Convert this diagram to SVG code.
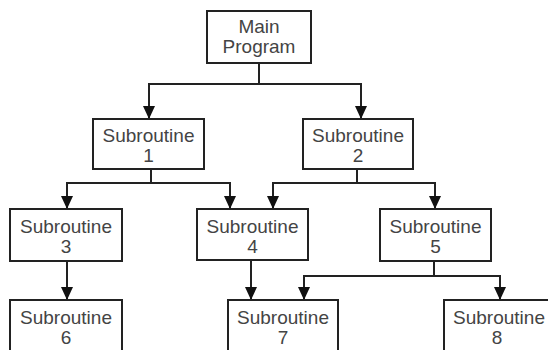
<svg xmlns="http://www.w3.org/2000/svg" width="548" height="350" viewBox="0 0 548 350">
<defs>
<style>
.box{fill:#fff;stroke:#222;stroke-width:2}
.t{font-family:"Liberation Sans",Arial,sans-serif;font-size:19px;fill:#444;text-anchor:middle}
.c{fill:none;stroke:#222;stroke-width:2}
</style>
<marker id="a" markerUnits="userSpaceOnUse" markerWidth="13" markerHeight="12" refX="13" refY="6" orient="auto" viewBox="0 0 13 12">
<path d="M0,0 L13,6 L0,12 Z" fill="#111"/>
</marker>
</defs>
<rect width="548" height="350" fill="#fff"/>
<g id="connectors">
<path class="c" d="M259,63 V84"/>
<path class="c" d="M259,84 H149 V119" marker-end="url(#a)"/>
<path class="c" d="M259,84 H361 V119" marker-end="url(#a)"/>
<path class="c" d="M151,169 V183"/>
<path class="c" d="M151,183 H67 V209" marker-end="url(#a)"/>
<path class="c" d="M151,183 H230 V209" marker-end="url(#a)"/>
<path class="c" d="M357,169 V183"/>
<path class="c" d="M357,183 H273 V209" marker-end="url(#a)"/>
<path class="c" d="M357,183 H435 V209" marker-end="url(#a)"/>
<path class="c" d="M67,261 V300" marker-end="url(#a)"/>
<path class="c" d="M251,260 V300" marker-end="url(#a)"/>
<path class="c" d="M434,261 V276"/>
<path class="c" d="M434,276 H304 V300" marker-end="url(#a)"/>
<path class="c" d="M434,276 H500 V300" marker-end="url(#a)"/>
</g>
<g id="main">
<rect class="box" x="207" y="11" width="104" height="52"/>
<text class="t" x="259" y="33">Main</text>
<text class="t" x="259" y="53">Program</text>
</g>
<g id="sub1">
<rect class="box" x="93" y="119" width="111" height="50"/>
<text class="t" x="148.5" y="142">Subroutine</text>
<text class="t" x="148.5" y="162">1</text>
</g>
<g id="sub2">
<rect class="box" x="303" y="119" width="110" height="50"/>
<text class="t" x="358" y="142">Subroutine</text>
<text class="t" x="358" y="162">2</text>
</g>
<g id="sub3">
<rect class="box" x="10" y="209" width="112" height="52"/>
<text class="t" x="66" y="233">Subroutine</text>
<text class="t" x="66" y="253">3</text>
</g>
<g id="sub4">
<rect class="box" x="197" y="209" width="111" height="51"/>
<text class="t" x="252.5" y="233">Subroutine</text>
<text class="t" x="252.5" y="253">4</text>
</g>
<g id="sub5">
<rect class="box" x="380" y="209" width="111" height="52"/>
<text class="t" x="435.5" y="233">Subroutine</text>
<text class="t" x="435.5" y="253">5</text>
</g>
<g id="sub6">
<rect class="box" x="10" y="300" width="112" height="60"/>
<text class="t" x="66" y="324">Subroutine</text>
<text class="t" x="66" y="344">6</text>
</g>
<g id="sub7">
<rect class="box" x="228" y="300" width="110" height="60"/>
<text class="t" x="283" y="324">Subroutine</text>
<text class="t" x="283" y="344">7</text>
</g>
<g id="sub8">
<rect class="box" x="444" y="300" width="115" height="60"/>
<text class="t" x="499" y="324">Subroutine</text>
<text class="t" x="497" y="344">8</text>
</g>
</svg>
